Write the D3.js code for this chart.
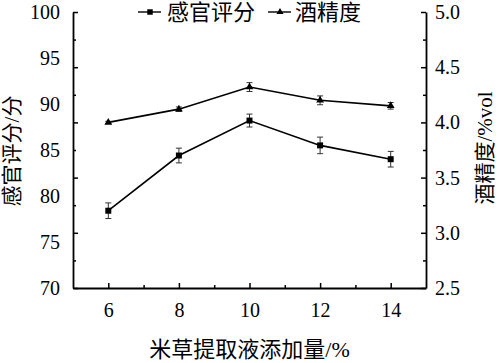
<!DOCTYPE html>
<html>
<head>
<meta charset="utf-8">
<script src="https://cdn.jsdelivr.net/npm/d3@7"></script>
<style>
  body { margin: 0; background: #fff; }
  svg text { font-family: "Times New Roman", "Liberation Serif", Tinos, "DejaVu Serif", "Noto Sans CJK SC", serif; fill: #000; }
</style>
</head>
<body>
<div id="chart"></div>
<script>
// data
let addLevels = [6, 8, 10, 12, 14];           // 米草提取液添加量 /%
let sensoryScore = [78.4, 84.4, 88.2, 85.5, 84.0];
let sensoryErr = [0.85, 0.8, 0.7, 0.9, 0.85];
let alcoholDeg = [4.0, 4.12, 4.32, 4.2, 4.15];
let alcoholErr = [0.01, 0.02, 0.04, 0.04, 0.03];
let leftTickLabels = [70, 75, 80, 85, 90, 95, 100];
let rightTickLabels = [2.5, 3.0, 3.5, 4.0, 4.5, 5.0];
let xMajor = [6, 8, 10, 12, 14];
let xMinor = [7, 9, 11, 13];

let width = 500, height = 363;
let mLeft = 73, mRight = 426, mTop = 12, mBottom = 288;

let svg = d3.select("#chart").append("svg")
  .attr("width", width)
  .attr("height", height);

// scales
let x = d3.scaleLinear().domain([5, 15]).range([mLeft, mRight]);
let yL = d3.scaleLinear().domain([70, 100]).range([mBottom, mTop]);
let yR = d3.scaleLinear().domain([2.5, 5]).range([mBottom, mTop]);

let rMajor = d3.range(2.5, 5.01, 0.5);
let rMinor = d3.range(2.75, 5, 0.5);

function styleAxis(g) {
  g.attr("font-family", null);
  g.select(".domain").attr("stroke-width", 1.8);
  g.selectAll(".tick line").attr("stroke-width", 1.5);
  g.selectAll("text").attr("font-size", 20);
}

// left axis: tick marks (inward), labels separately
svg.append("g").attr("transform", `translate(${mLeft},0)`)
  .call(d3.axisRight(yR).tickValues(rMajor).tickSize(5).tickSizeOuter(0).tickFormat(""))
  .call(styleAxis);
svg.append("g").attr("transform", `translate(${mLeft},0)`)
  .call(d3.axisRight(yR).tickValues(rMinor).tickSize(3).tickSizeOuter(0).tickFormat(""))
  .call(g => g.select(".domain").remove())
  .call(styleAxis);
svg.append("g").attr("transform", `translate(${mLeft},0)`)
  .call(d3.axisLeft(yL).tickValues(leftTickLabels).tickSize(0).tickPadding(13))
  .call(g => g.select(".domain").remove())
  .call(styleAxis);

// right axis
svg.append("g").attr("transform", `translate(${mRight},0)`)
  .call(d3.axisLeft(yR).tickValues(rMajor).tickSize(5).tickSizeOuter(0).tickFormat(""))
  .call(styleAxis);
svg.append("g").attr("transform", `translate(${mRight},0)`)
  .call(d3.axisLeft(yR).tickValues(rMinor).tickSize(3).tickSizeOuter(0).tickFormat(""))
  .call(g => g.select(".domain").remove())
  .call(styleAxis);
svg.append("g").attr("transform", `translate(${mRight},0)`)
  .call(d3.axisRight(yR).tickValues(rightTickLabels).tickSize(0).tickPadding(9).tickFormat(d3.format(".1f")))
  .call(g => g.select(".domain").remove())
  .call(styleAxis);

// x axis
svg.append("g").attr("transform", `translate(0,${mBottom})`)
  .call(d3.axisTop(x).tickValues(xMajor).tickSize(5).tickSizeOuter(0).tickFormat(""))
  .call(styleAxis);
svg.append("g").attr("transform", `translate(0,${mBottom})`)
  .call(d3.axisTop(x).tickValues(xMinor).tickSize(3).tickSizeOuter(0).tickFormat(""))
  .call(g => g.select(".domain").remove())
  .call(styleAxis);
svg.append("g").attr("transform", `translate(0,${mBottom})`)
  .call(d3.axisBottom(x).tickValues(xMajor).tickSize(0).tickPadding(15))
  .call(g => g.select(".domain").remove())
  .call(styleAxis);

// axis titles
svg.append("text")
  .attr("x", (mLeft + mRight) / 2).attr("y", 357)
  .attr("text-anchor", "middle").attr("font-size", 22)
  .text("米草提取液添加量/%");
svg.append("text")
  .attr("transform", "translate(19,151) rotate(-90)")
  .attr("text-anchor", "middle").attr("font-size", 21)
  .text("感官评分/分");
svg.append("text")
  .attr("transform", "translate(492,148) rotate(-90)")
  .attr("text-anchor", "middle").attr("font-size", 21)
  .text("酒精度/%vol");

// series
let series = [
  { vals: sensoryScore, err: sensoryErr, y: yL, sym: d3.symbolSquare, size: 36 },
  { vals: alcoholDeg, err: alcoholErr, y: yR, sym: d3.symbolTriangle, size: 26 }
];

series.forEach(s => {
  let pts = addLevels.map((d, i) => ({ x: d, v: s.vals[i], e: s.err[i] }));
  let line = d3.line().x(d => x(d.x)).y(d => s.y(d.v));

  svg.append("path").datum(pts)
    .attr("d", line)
    .attr("fill", "none")
    .attr("stroke", "#000")
    .attr("stroke-width", 1.6);

  // error bars
  let eb = svg.append("g").attr("stroke", "#333").attr("stroke-width", 1);
  pts.forEach(p => {
    let cx = x(p.x), y1 = s.y(p.v - p.e), y2 = s.y(p.v + p.e);
    eb.append("line").attr("x1", cx).attr("x2", cx).attr("y1", y1).attr("y2", y2);
    eb.append("line").attr("x1", cx - 3).attr("x2", cx + 3).attr("y1", y1).attr("y2", y1);
    eb.append("line").attr("x1", cx - 3).attr("x2", cx + 3).attr("y1", y2).attr("y2", y2);
  });

  svg.append("g").selectAll("path").data(pts).join("path")
    .attr("transform", d => `translate(${x(d.x)},${s.y(d.v)})`)
    .attr("d", d3.symbol().type(s.sym).size(s.size))
    .attr("fill", "#000");
});

// legend
let legend = [
  { label: "感官评分", sym: d3.symbolSquare, size: 30, x: 138, tx: 167 },
  { label: "酒精度", sym: d3.symbolTriangle, size: 22, x: 268, tx: 295 }
];
legend.forEach(l => {
  let g = svg.append("g");
  g.append("line").attr("x1", l.x).attr("x2", l.x + 23).attr("y1", 12).attr("y2", 12)
    .attr("stroke", "#000").attr("stroke-width", 1.4);
  g.append("path").attr("transform", `translate(${l.x + 12},12)`)
    .attr("d", d3.symbol().type(l.sym).size(l.size)).attr("fill", "#000");
  g.append("text").attr("x", l.tx).attr("y", 20).attr("font-size", 22).text(l.label);
});
</script>
</body>
</html>
